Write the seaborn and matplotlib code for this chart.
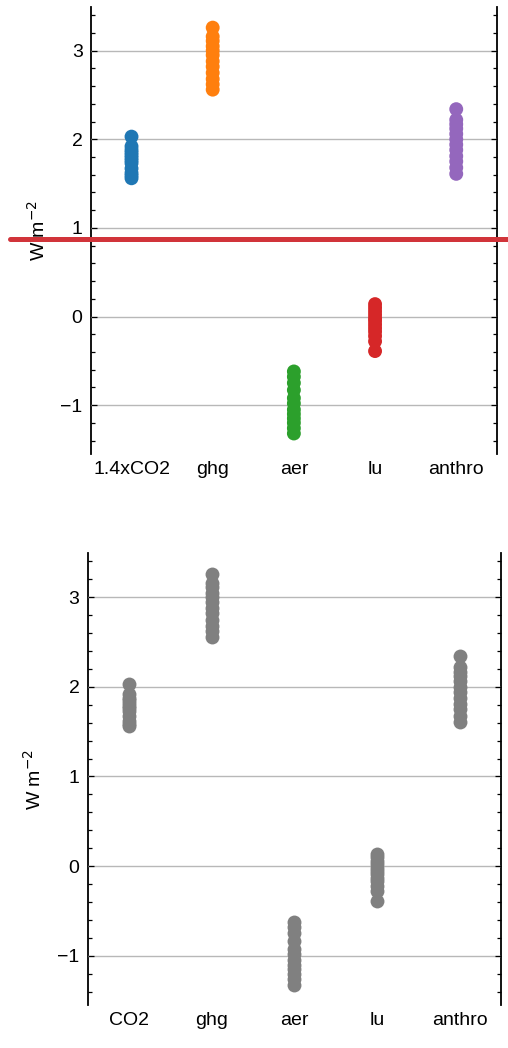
import numpy as np
import pandas as pd
import seaborn as sns
import matplotlib.pyplot as plt
from matplotlib.ticker import MultipleLocator

# ERF estimates per model (W m-2)
co2 = [2.03, 1.92, 1.88, 1.85, 1.82, 1.79, 1.76, 1.73, 1.67, 1.62, 1.59, 1.56]
ghg = [3.26, 3.16, 3.11, 3.05, 3.00, 2.95, 2.88, 2.82, 2.75, 2.68, 2.62, 2.56]
aer = [-0.62, -0.68, -0.75, -0.83, -0.92, -0.98, -1.05, -1.10, -1.15, -1.20, -1.26, -1.32]
lu = [0.14, 0.10, 0.06, 0.02, -0.02, -0.05, -0.09, -0.13, -0.17, -0.22, -0.28, -0.39]
anthro = [2.34, 2.22, 2.17, 2.12, 2.06, 2.00, 1.94, 1.88, 1.81, 1.75, 1.68, 1.61]

top_labels = ['1.4xCO2', 'ghg', 'aer', 'lu', 'anthro']
bottom_labels = ['CO2', 'ghg', 'aer', 'lu', 'anthro']
red_line_y = 0.87

sns.set_theme(style='ticks', rc={'text.color': 'black', 'axes.labelcolor': 'black',
                                 'xtick.color': 'black', 'ytick.color': 'black',
                                 'axes.edgecolor': 'black'})
plt.rcParams['font.family'] = ['Liberation Sans', 'DejaVu Sans']


def make_frame(labels):
    series = [co2, ghg, aer, lu, anthro]
    rows = []
    for lab, vals in zip(labels, series):
        for v in vals:
            rows.append({'expt': lab, 'erf': v})
    return pd.DataFrame(rows)


def style_axis(ax):
    ax.set_xlabel('')
    ax.set_ylabel('W m$^{-2}$', fontsize=14)
    ax.yaxis.set_label_coords(-0.105, 0.5)
    ax.yaxis.set_major_locator(MultipleLocator(1))
    ax.yaxis.set_minor_locator(MultipleLocator(0.2))
    ax.tick_params(axis='y', which='both', direction='in', left=True, right=True,
                   labelsize=14, pad=6, width=0.9)
    ax.tick_params(axis='y', which='major', length=4.5)
    ax.tick_params(axis='y', which='minor', length=2.7)
    ax.tick_params(axis='x', length=0, labelsize=14, pad=5)
    for side in ['top', 'bottom']:
        ax.spines[side].set_visible(False)
    for side in ['left', 'right']:
        ax.spines[side].set_linewidth(1.3)
    ax.yaxis.grid(True, color='#b8b8b8', lw=1.0)
    ax.xaxis.grid(False)
    ax.set_axisbelow(False)


fig = plt.figure(figsize=(5.08, 10.48), dpi=100)
ax1 = fig.add_axes([0.179, 0.567, 0.799, 0.426])
ax2 = fig.add_axes([0.173, 0.041, 0.813, 0.431])

df_top = make_frame(top_labels)
sns.stripplot(data=df_top, x='expt', y='erf', hue='expt', palette='tab10',
              jitter=False, size=10, linewidth=0, legend=False, ax=ax1)
style_axis(ax1)
ax1.axhline(red_line_y, xmin=-0.2, xmax=1.03, clip_on=False,
            color='#d1343a', lw=3.6, zorder=10)

df_bot = make_frame(bottom_labels)
sns.stripplot(data=df_bot, x='expt', y='erf', color='grey',
              jitter=False, size=10, linewidth=0, ax=ax2)
style_axis(ax2)

fig.savefig('out.png', dpi=100)
